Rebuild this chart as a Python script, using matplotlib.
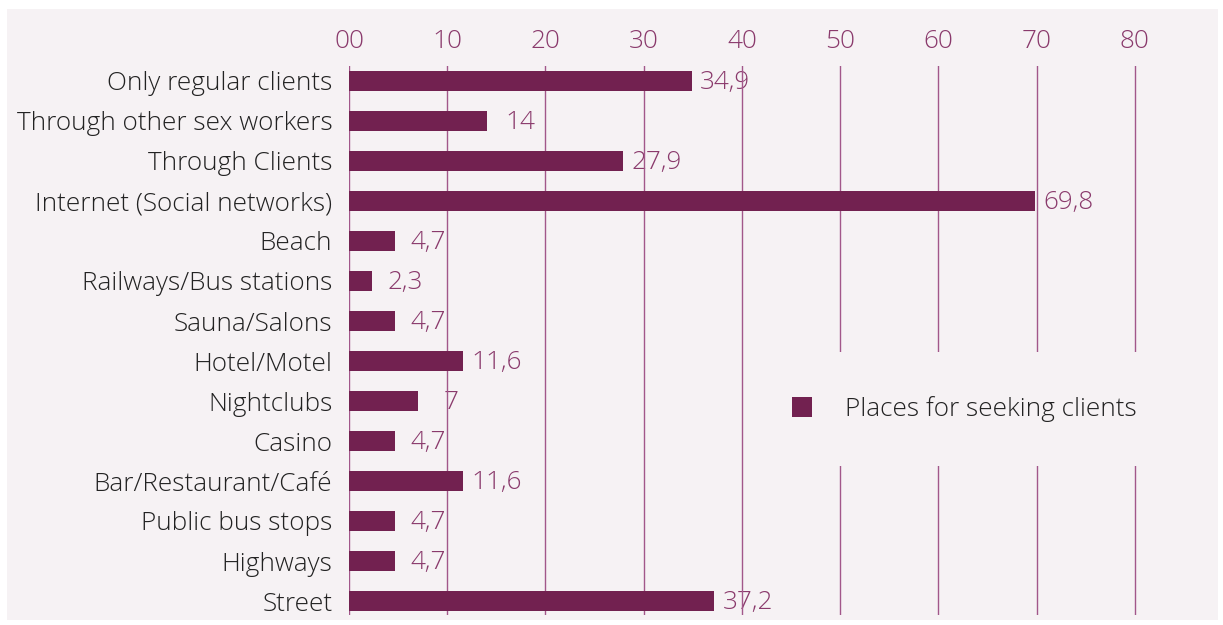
import matplotlib
matplotlib.use('Agg')
import matplotlib.pyplot as plt
from matplotlib.patches import Patch

plt.rcParams['font.family'] = ['Open Sans', 'DejaVu Sans']

categories = ['Only regular clients', 'Through other sex workers', 'Through Clients',
              'Internet (Social networks)', 'Beach', 'Railways/Bus stations',
              'Sauna/Salons', 'Hotel/Motel', 'Nightclubs', 'Casino',
              'Bar/Restaurant/Café', 'Public bus stops', 'Highways', 'Street']
values = [34.9, 14, 27.9, 69.8, 4.7, 2.3, 4.7, 11.6, 7, 4.7, 11.6, 4.7, 4.7, 37.2]
xticks = [0, 10, 20, 30, 40, 50, 60, 70, 80]
xtick_labels = ['00', '10', '20', '30', '40', '50', '60', '70', '80']
series_name = 'Places for seeking clients'

bar_color = '#722150'
tick_color = '#8a3a6c'
grid_color = '#a2578a'
bg = '#f6f2f4'
fs = 18.8

fig = plt.figure(figsize=(12.23, 6.25), dpi=100)
fig.patch.set_facecolor('white')
# panel background
fig.patches.append(plt.Rectangle((7 / 1223, 5 / 625), 1211 / 1223, 611 / 625,
                                 transform=fig.transFigure, facecolor=bg,
                                 edgecolor='none', zorder=-10))

ax = fig.add_axes([349 / 1223, 10 / 625, 835 / 1223, 549 / 625])
ax.set_facecolor('none')

y = list(range(len(categories)))
ax.barh(y, values, height=0.52, color=bar_color, zorder=2)

for xv in xticks:
    ax.axvline(xv, color=grid_color, lw=1, zorder=1)

for yi, v in zip(y, values):
    txt = ('%g' % v).replace('.', ',')
    ax.annotate(txt, (v, yi), xytext=(24, -1), textcoords='offset points',
                ha='center', va='center', color=tick_color, fontsize=fs,
                fontweight='light', zorder=0.5)

ax.set_xlim(0, 85)
ax.set_ylim(len(categories) - 0.65, -0.375)
ax.set_xticks(xticks)
ax.set_xticklabels(xtick_labels, color=tick_color, fontsize=fs, fontweight='light')
ax.xaxis.tick_top()
ax.tick_params(axis='x', length=0, pad=9)
ax.set_yticks(y)
ax.set_yticklabels(categories, color='#222222', fontsize=fs, fontweight='light')
ax.tick_params(axis='y', length=0, pad=12)
for s in ax.spines.values():
    s.set_visible(False)

leg = ax.legend(handles=[Patch(facecolor=bar_color, label=series_name)],
                loc='center', bbox_to_anchor=(0.737, 0.375), frameon=True,
                facecolor=bg, edgecolor='none', framealpha=1, fontsize=fs,
                handlelength=0.78, handleheight=0.78, handletextpad=1.25,
                borderpad=1.7, borderaxespad=0)
for t in leg.get_texts():
    t.set_color('#222222')
    t.set_fontweight('light')

fig.savefig('out.png', dpi=100)
